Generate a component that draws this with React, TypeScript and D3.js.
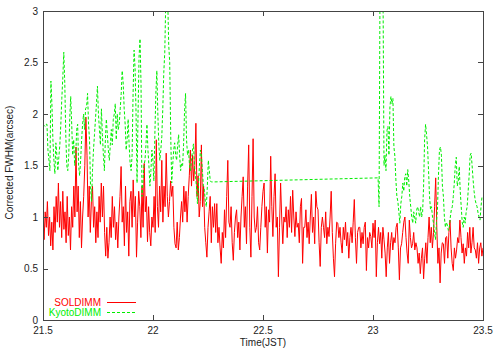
import { useEffect, useRef } from "react";
import * as d3 from "d3";

// SOLDIMM seeing, one sample every 0.005 h starting at 21.5 JST
const solStart = 21.5;
const solStep = 0.005;
const solValues = [
  0.95, 0.78, 1.05, 0.9, 1.15, 0.82, 1.0, 0.72, 0.95, 0.68, 1.1, 0.85, 1.2, 0.95, 1.33, 0.9, 1.15, 0.8, 1.25, 0.88,
  1.05, 0.75, 1.2, 0.82, 1.0, 0.68, 1.1, 0.9, 1.3, 1.0, 1.68, 1.05, 1.3, 0.8, 1.15, 0.7, 1.0, 1.2, 1.5, 1.97,
  1.6, 1.0, 1.3, 0.85, 1.15, 1.3, 0.9, 1.1, 0.75, 1.05, 0.8, 1.2, 0.95, 1.33, 1.0, 1.3, 0.85, 0.62, 0.9, 0.6,
  0.75, 1.0, 0.8, 1.2, 0.9, 1.1, 0.78, 0.95, 0.7, 1.0, 1.2, 1.49, 0.95, 1.1, 0.72, 1.3, 0.85, 1.05, 0.62, 1.15,
  1.25, 0.9, 1.36, 1.0, 1.2, 0.61, 0.95, 1.25, 1.1, 0.8, 1.3, 0.9, 1.52, 1.05, 1.2, 0.76, 1.1, 0.85, 0.72, 1.0,
  0.9, 1.2, 0.85, 1.75, 1.1, 0.9, 1.3, 1.05, 1.55, 0.95, 1.3, 1.1, 1.62, 1.2, 1.0, 1.15, 1.35, 1.2, 1.3, 0.9,
  0.74, 0.7, 0.95, 0.68, 0.8, 1.0, 1.15, 0.95, 1.3, 1.05, 1.25, 0.95, 1.2, 1.4, 1.65, 1.3, 1.6, 1.35, 1.5, 1.91,
  1.2, 1.4, 1.0, 1.15, 1.7, 1.1, 1.3, 0.9, 0.75, 0.61, 0.9, 1.05, 1.2, 0.75, 1.1, 0.9, 1.13, 0.85, 1.13, 0.75,
  0.9, 0.7, 0.55, 0.85, 0.7, 1.07, 0.8, 1.2, 1.55, 0.95, 0.9, 1.1, 0.75, 0.58, 0.85, 1.0, 1.07, 0.8, 0.95, 0.68,
  1.0, 1.2, 1.39, 0.9, 1.1, 0.74, 1.3, 1.7, 0.9, 0.61, 1.2, 1.76, 1.0, 0.85, 0.9, 1.1, 0.75, 0.68, 0.9, 1.1,
  1.25, 1.33, 0.9, 1.1, 0.65, 1.07, 0.95, 1.59, 1.1, 0.81, 1.2, 1.42, 0.9, 1.0, 0.42, 0.9, 1.33, 1.0, 0.74, 1.0,
  0.95, 1.1, 0.8, 1.07, 0.9, 1.2, 0.85, 1.26, 1.0, 0.81, 1.05, 0.9, 0.94, 0.75, 1.1, 1.18, 0.55, 0.9, 0.9, 1.07,
  0.8, 0.95, 0.74, 1.0, 1.22, 0.85, 1.0, 0.74, 1.25, 1.1, 1.07, 0.75, 0.52, 0.9, 1.0, 0.9, 0.8, 1.05, 0.74, 0.9,
  0.81, 1.0, 1.25, 0.85, 0.6, 0.42, 0.74, 0.95, 0.94, 0.8, 0.9, 0.75, 0.65, 0.9, 0.78, 0.95, 0.72, 0.85, 0.6, 0.8,
  0.9, 0.75, 0.95, 1.17, 0.8, 0.55, 0.85, 0.9, 0.9, 0.7, 0.85, 0.74, 0.9, 0.95, 0.48, 0.8, 0.7, 0.85, 0.81, 0.7,
  0.94, 0.8, 0.97, 0.42, 0.75, 0.9, 0.74, 0.85, 0.6, 0.9, 0.78, 0.65, 0.42, 0.7, 0.85, 0.55, 0.75, 0.85, 0.68, 0.8,
  0.75, 0.9, 0.94, 0.7, 0.39, 0.7, 0.74, 0.85, 0.95, 1.0, 0.8, 0.65, 0.55, 0.97, 0.8, 0.7, 0.74, 0.85, 0.68, 0.75,
  0.7, 0.55, 0.65, 0.45, 0.6, 0.7, 0.4, 0.6, 0.75, 0.55, 0.8, 1.0, 0.75, 0.9, 0.7, 0.85, 1.1, 1.38, 0.9, 0.55,
  0.7, 0.36, 0.65, 0.75, 0.74, 0.55, 0.8, 0.81, 0.6, 0.85, 0.97, 0.7, 0.55, 0.48, 0.7, 0.6, 0.68, 0.8, 0.75, 0.97,
  0.8, 0.65, 0.74, 0.55, 0.7, 0.62, 0.85, 0.7, 0.9, 0.65, 0.75, 0.9, 0.7, 0.68, 0.6, 0.75, 0.55, 0.7, 0.75, 0.62, 0.7,
];

// KyotoDIMM seeing, one sample every 0.0045 h, two runs with a gap between them
const kyotoStep = 0.0045;
const kyotoStartA = 21.5;
const kyotoValuesA = [
  1.9, 1.89, 1.88, 1.9, 1.9, 1.65, 1.55, 1.45, 2.32, 2.1, 1.75, 1.55, 1.42, 1.72, 1.6, 1.45, 1.58, 1.7, 1.9, 2.15,
  2.35, 2.6, 2.3, 1.8, 1.5, 1.45, 1.6, 1.95, 2.17, 1.9, 1.6, 1.75, 1.5, 1.58, 1.85, 1.9, 1.5, 1.4, 1.55, 1.75,
  1.9, 2.0, 1.85, 2.05, 2.07, 2.2, 1.9, 1.75, 1.3, 1.15, 1.45, 1.65, 1.8, 1.95, 2.1, 2.27, 2.0, 1.85, 1.7, 2.05,
  1.8, 1.6, 1.45, 1.75, 1.95, 1.8, 1.65, 1.55, 1.7, 1.85, 1.7, 1.95, 2.0, 2.1, 1.75, 2.0, 1.85, 1.9, 2.05, 2.2,
  2.42, 2.3, 2.05, 1.9, 1.65, 1.75, 1.95, 1.7, 1.52, 1.45, 1.6, 2.2, 2.62, 2.45, 2.0, 1.33, 2.0, 2.55, 2.73, 2.3,
  1.2, 1.35, 1.5, 1.55, 1.7, 1.9, 1.65, 1.5, 1.3, 1.45, 1.65, 1.55, 1.35, 1.8, 2.2, 2.42, 2.0, 1.7, 1.55, 1.65,
  1.78, 2.05, 2.4, 2.6, 3.1, 3.3, 3.1, 2.67, 2.5, 1.8, 1.33, 1.5, 1.65, 1.72, 1.6, 1.55, 1.7, 1.8, 1.6, 1.45,
  1.52, 1.5, 1.7, 2.04, 2.2, 1.75, 1.6, 1.65, 1.5, 1.45, 1.55, 1.65, 1.71, 1.5, 1.4, 1.3, 1.13, 1.3, 1.5, 1.65,
  1.6, 1.45, 1.3, 1.26, 1.15, 1.1, 1.3, 1.55, 1.45, 1.35, 1.34,
];
const kyotoStartB = 23.023;
const kyotoValuesB = [
  1.38, 1.1, 3.3, 3.4, 3.3, 3.2, 1.5, 1.6, 1.45, 1.84, 1.88, 1.6, 2.07, 2.17, 2.1, 2.15, 1.68, 1.59, 1.36, 1.2,
  1.15, 1.05, 0.94, 1.13, 1.2, 1.33, 1.25, 1.39, 1.42, 1.3, 1.46, 1.35, 1.2, 1.1, 1.0, 0.94, 1.05, 1.0, 0.94, 1.07,
  1.1, 1.05, 1.0, 1.1, 1.0, 1.05, 1.3, 1.75, 1.9, 1.8, 1.68, 1.45, 1.2, 1.07, 1.1, 1.0, 0.94, 0.85, 0.78, 0.95,
  1.07, 1.4, 1.65, 1.68, 1.6, 1.3, 1.2, 1.0, 0.9, 0.95, 0.92, 0.87, 0.9, 1.0, 1.07, 1.1, 1.2, 1.33, 1.5, 1.58,
  1.3, 1.35, 1.49, 1.25, 1.1, 0.95, 0.9, 1.0, 0.94, 1.05, 1.1, 1.25, 1.4, 1.6, 1.62, 1.5, 1.36, 1.25, 1.17, 1.13,
  1.1, 1.04, 1.0, 0.97, 1.1, 1.2,
];

const xTicks = [21.5, 22, 22.5, 23, 23.5];
const yTicks = [0, 0.5, 1, 1.5, 2, 2.5, 3];
const seriesNames = ["SOLDIMM", "KyotoDIMM"];
const seriesColors = ["#ff0000", "#00ee00"];

const FONT = "'Liberation Sans', Arial, Helvetica, sans-serif";

const App = () => {
  const svgRef = useRef<SVGSVGElement | null>(null);

  useEffect(() => {
    document.body.style.margin = "0";
    if (!svgRef.current) return;
    const svg = d3.select(svgRef.current);
    svg.selectAll("*").remove();

    const left = 43, right = 483, top = 11, bottom = 320;

    const x = d3.scaleLinear().domain([21.5, 23.5]).range([left, right]);
    const y = d3.scaleLinear().domain([0, 3]).range([bottom, top]);

    const sol = solValues.map((v, i) => [solStart + i * solStep, v] as [number, number]);
    const kyoto = [
      ...kyotoValuesA.map((v, i) => [kyotoStartA + i * kyotoStep, v] as [number, number]),
      ...kyotoValuesB.map((v, i) => [kyotoStartB + i * kyotoStep, v] as [number, number]),
    ];

    const line = d3.line<[number, number]>()
      .x(d => x(d[0]))
      .y(d => y(d[1]));

    svg.append("defs").append("clipPath").attr("id", "plot-clip")
      .append("rect")
      .attr("x", left).attr("y", top)
      .attr("width", right - left).attr("height", bottom - top);

    const plot = svg.append("g").attr("clip-path", "url(#plot-clip)");

    plot.append("path")
      .datum(sol)
      .attr("d", line)
      .attr("fill", "none")
      .attr("stroke", seriesColors[0])
      .attr("stroke-width", 1);

    plot.append("path")
      .datum(kyoto)
      .attr("d", line)
      .attr("fill", "none")
      .attr("stroke", seriesColors[1])
      .attr("stroke-width", 1)
      .attr("stroke-dasharray", "3,2");

    // frame
    svg.append("rect")
      .attr("x", left + 0.5).attr("y", top + 0.5)
      .attr("width", right - left).attr("height", bottom - top)
      .attr("fill", "none")
      .attr("stroke", "#444");

    const fmt = d3.format("~g");
    const tickLen = 5;

    const xg = svg.append("g").attr("stroke", "#444");
    xTicks.forEach(t => {
      const px = Math.round(x(t)) + 0.5;
      xg.append("line").attr("x1", px).attr("x2", px).attr("y1", bottom).attr("y2", bottom - tickLen);
      xg.append("line").attr("x1", px).attr("x2", px).attr("y1", top).attr("y2", top + tickLen);
    });
    svg.append("g").selectAll("text").data(xTicks).enter().append("text")
      .attr("x", d => x(d))
      .attr("y", 334)
      .attr("text-anchor", "middle")
      .attr("font-family", FONT)
      .attr("font-size", 10)
      .attr("fill", "#222")
      .text(d => fmt(d));

    const yg = svg.append("g").attr("stroke", "#444");
    yTicks.forEach(t => {
      const py = Math.round(y(t)) + 0.5;
      yg.append("line").attr("x1", left).attr("x2", left + tickLen).attr("y1", py).attr("y2", py);
      yg.append("line").attr("x1", right).attr("x2", right - tickLen).attr("y1", py).attr("y2", py);
    });
    svg.append("g").selectAll("text").data(yTicks).enter().append("text")
      .attr("x", 38)
      .attr("y", d => y(d))
      .attr("dy", "0.35em")
      .attr("text-anchor", "end")
      .attr("font-family", FONT)
      .attr("font-size", 10)
      .attr("fill", "#222")
      .text(d => fmt(d));

    svg.append("text")
      .attr("x", x(22.5))
      .attr("y", 346)
      .attr("text-anchor", "middle")
      .attr("font-family", FONT)
      .attr("font-size", 10)
      .attr("fill", "#222")
      .text("Time(JST)");

    svg.append("text")
      .attr("transform", `translate(13,${(top + bottom) / 2 - 3}) rotate(-90)`)
      .attr("text-anchor", "middle")
      .attr("font-family", FONT)
      .attr("font-size", 10)
      .attr("fill", "#222")
      .text("Corrected FWHM(arcsec)");

    // legend
    const legend = svg.append("g");
    seriesNames.forEach((name, i) => {
      const ly = 302 + i * 10;
      legend.append("text")
        .attr("x", 101)
        .attr("y", ly)
        .attr("dy", "0.35em")
        .attr("text-anchor", "end")
        .attr("font-family", FONT)
        .attr("font-size", 10)
        .attr("fill", seriesColors[i])
        .text(name);
      legend.append("line")
        .attr("x1", 107).attr("x2", 136)
        .attr("y1", ly + 0.5).attr("y2", ly + 0.5)
        .attr("stroke", seriesColors[i])
        .attr("stroke-dasharray", i === 1 ? "3,2" : null);
    });
  }, []);

  return <svg ref={svgRef} width={500} height={350} style={{ display: "block" }}></svg>;
};

export default App;
